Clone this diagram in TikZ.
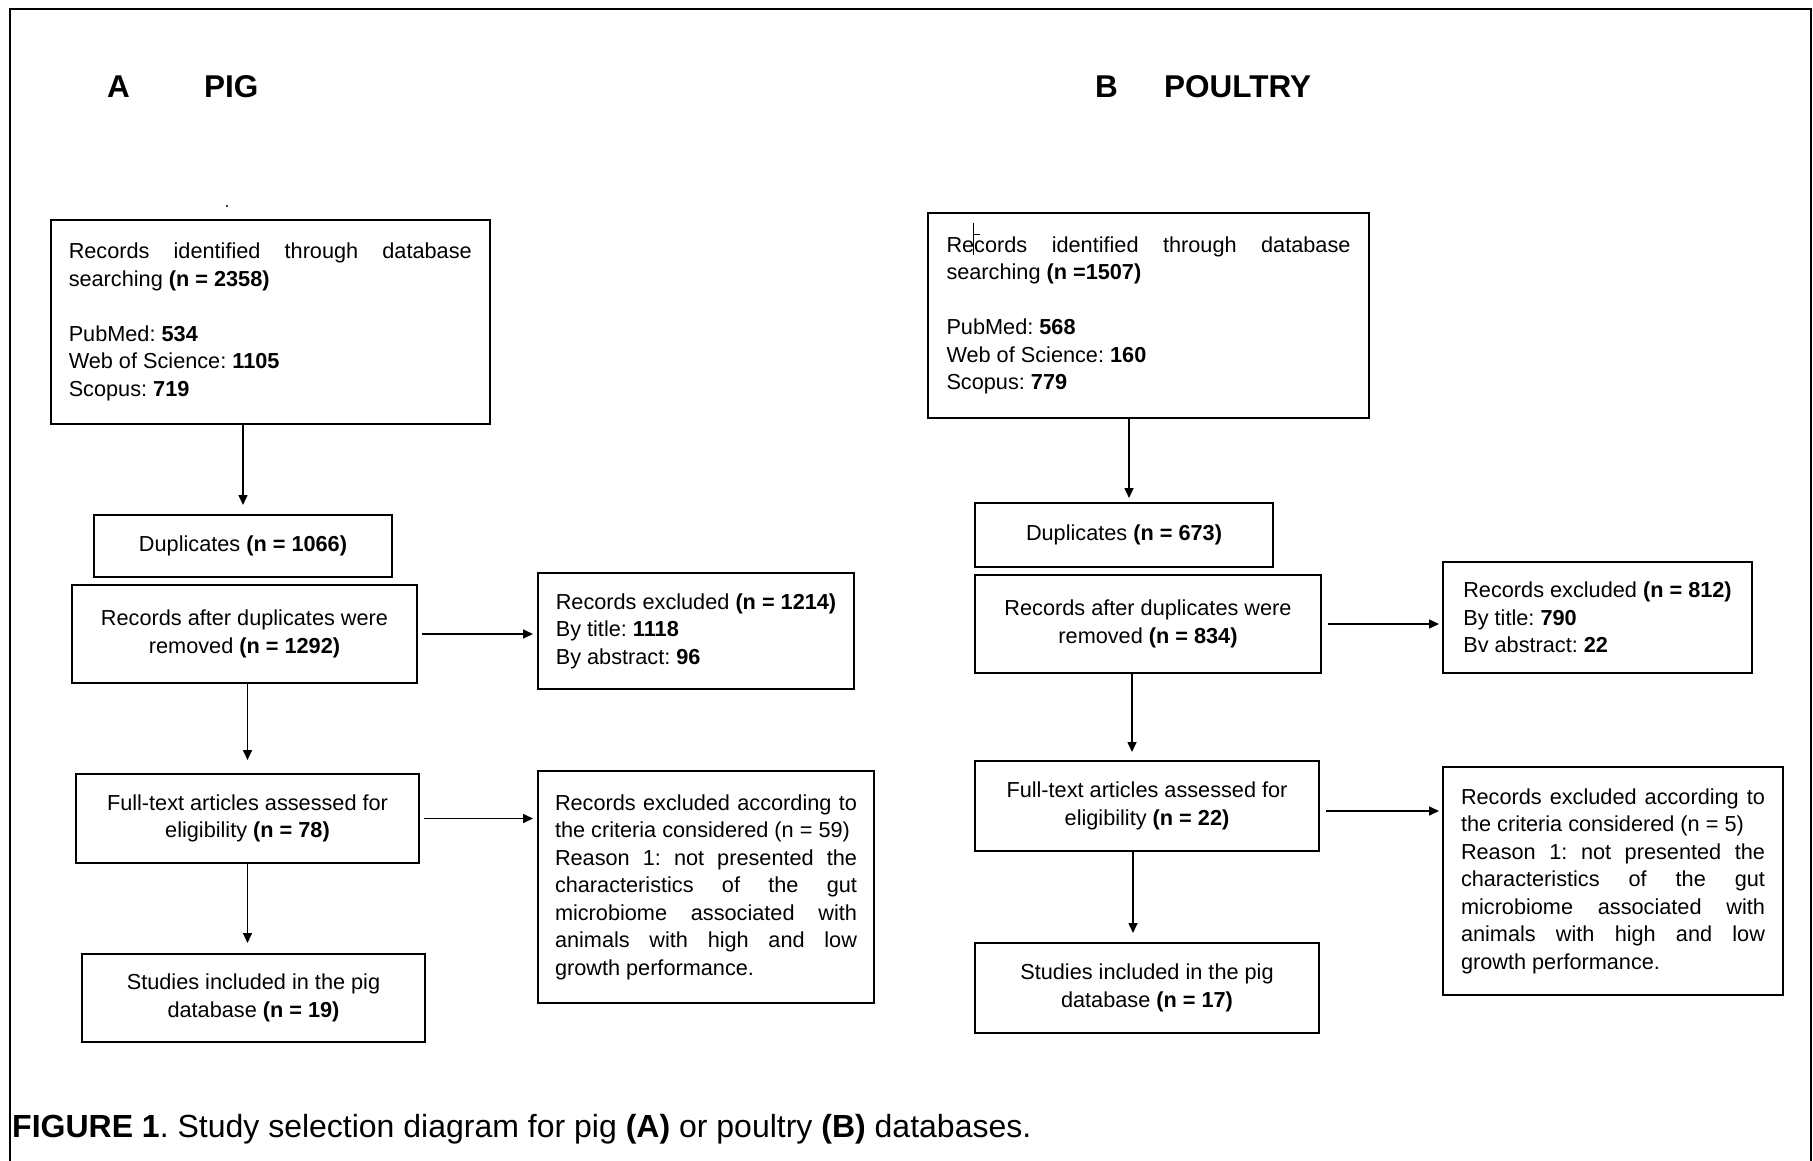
\documentclass[tikz,border=0pt]{standalone}
\usepackage{fontspec}
\setmainfont{Liberation Sans}
\usetikzlibrary{arrows.meta}
\frenchspacing

\begin{document}
\begin{tikzpicture}[x=1pt,y=-1pt,
    boite/.style={draw, line width=2pt, inner sep=0pt, anchor=north west, align=center, font=\fontsize{21.7}{27.5}\selectfont},
    texte/.style={boite, align=flush left},
    fleche/.style={-{Triangle[length=10pt,width=9pt]}, line width=1.6pt},
    titre/.style={anchor=base west, inner sep=0pt, font=\fontsize{31.5}{37}\selectfont\bfseries}]
    \useasboundingbox (0,0) rectangle (1813,1161);
    % Cadre
    \draw[line width=2.5pt] (10,1161) -- (10,9) -- (1811,9) -- (1811,1161);
    % Titres
    \path (107,98) node[titre] (lettreA) {A};
    \path (204,98) node[titre] (porc) {PIG};
    \path (1095,98) node[titre] (lettreB) {B};
    \path (1164,98) node[titre] (volaille) {POULTRY};
    \fill (227,206) circle (1.2); % point isole
    % Schema A (porc)
    \node[texte, text width=403pt, inner xsep=17.75pt, minimum height=204pt] (recA) at (50,219)
        {Records\hfill identified\hfill through\hfill database\\
         searching \textbf{(n = 2358)}\\[27.5pt]
         PubMed: \textbf{534}\\
         Web of Science: \textbf{1105}\\
         Scopus: \textbf{719}};
    \node[boite, minimum width=298pt, minimum height=62pt] (dupA) at (93,514) {Duplicates \textbf{(n = 1066)}};
    \node[boite, minimum width=345pt, minimum height=98pt] (apresA) at (71,584)
        {Records after duplicates were\\removed \textbf{(n = 1292)}};
    \node[texte, minimum width=316pt, minimum height=116pt] (exclA) at (537,572)
        {Records excluded \textbf{(n = 1214)}\\By title: \textbf{1118}\\By abstract: \textbf{96}};
    \node[boite, minimum width=343pt, minimum height=89pt] (texteA) at (75,773)
        {Full-text articles assessed for\\eligibility \textbf{(n = 78)}};
    \node[texte, text width=302pt, inner xsep=17pt, minimum height=232pt] (critA) at (537,770)
        {Records\hfill excluded\hfill according\hfill to\\
         the criteria considered (n = 59)\\
         Reason\hfill 1:\hfill not\hfill presented\hfill the\\
         characteristics\hfill of\hfill the\hfill gut\\
         microbiome\hfill associated\hfill with\\
         animals\hfill with\hfill high\hfill and\hfill low\\
         growth performance.};
    \node[boite, minimum width=343pt, minimum height=88pt] (etudA) at (81,953)
        {Studies included in the pig\\database \textbf{(n = 19)}};
    \draw[fleche, shorten >=9pt] (dupA.north |- recA.south) -- (dupA.north);
    \draw[fleche, shorten >=13pt] (texteA.north |- apresA.south) -- (texteA.north);
    \draw[fleche, shorten >=10pt] (texteA.south) -- (texteA.south |- etudA.north);
    \draw[fleche, shorten <=4pt, shorten >=4pt] (apresA.east) -- (apresA.east -| exclA.west);
    \draw[fleche, shorten <=4pt, shorten >=4pt] (texteA.east) -- (texteA.east -| critA.west);
    % Schema B (volaille)
    \node[texte, text width=404pt, inner xsep=18.5pt, minimum height=205pt] (recB) at (927,212)
        {Records\hfill identified\hfill through\hfill database\\
         searching \textbf{(n =1507)}\\[27.5pt]
         PubMed: \textbf{568}\\
         Web of Science: \textbf{160}\\
         Scopus: \textbf{779}};
    \draw[line width=1pt] (973,223) -- (973,255); % curseur
    \draw[line width=1pt] (973,235) -- (980,235);
    \node[boite, minimum width=298pt, minimum height=64pt] (dupB) at (974,502) {Duplicates \textbf{(n = 673)}};
    \node[boite, minimum width=346pt, minimum height=98pt] (apresB) at (974,574)
        {Records after duplicates were\\removed \textbf{(n = 834)}};
    \node[texte, minimum width=309pt, minimum height=111pt] (exclB) at (1442,561)
        {Records excluded \textbf{(n = 812)}\\By title: \textbf{790}\\Bv abstract: \textbf{22}};
    \node[boite, minimum width=344pt, minimum height=90pt] (texteB) at (974,760)
        {Full-text articles assessed for\\eligibility \textbf{(n = 22)}};
    \node[texte, text width=304pt, inner xsep=18pt, minimum height=228pt] (critB) at (1442,766)
        {Records\hfill excluded\hfill according\hfill to\\
         the criteria considered (n = 5)\\
         Reason\hfill 1:\hfill not\hfill presented\hfill the\\
         characteristics\hfill of\hfill the\hfill gut\\
         microbiome\hfill associated\hfill with\\
         animals\hfill with\hfill high\hfill and\hfill low\\
         growth performance.};
    \node[boite, minimum width=344pt, minimum height=90pt] (etudB) at (974,942)
        {Studies included in the pig\\database \textbf{(n = 17)}};
    \draw[fleche, shorten >=4pt] ([xshift=5pt]recB.south -| dupB.north) -- ([xshift=5pt]dupB.north);
    \draw[fleche, shorten >=8pt] ([xshift=-16pt]apresB.south) -- ([xshift=-16pt]apresB.south |- texteB.north);
    \draw[fleche, shorten >=9pt] ([xshift=-14pt]texteB.south) -- ([xshift=-14pt]texteB.south |- etudB.north);
    \draw[fleche, shorten <=6pt, shorten >=3pt] (apresB.east) -- (apresB.east -| exclB.west);
    \draw[fleche, shorten <=6pt, shorten >=3pt] ([yshift=-5pt]texteB.east) -- ([yshift=-5pt]texteB.east -| critB.west);
    % Legende
    \node[anchor=base west, inner sep=0pt, font=\fontsize{32}{38}\selectfont] (legende) at (12,1137)
        {\textbf{FIGURE 1}. Study selection diagram for pig \textbf{(A)} or poultry \textbf{(B)} databases.};
\end{tikzpicture}
\end{document}
